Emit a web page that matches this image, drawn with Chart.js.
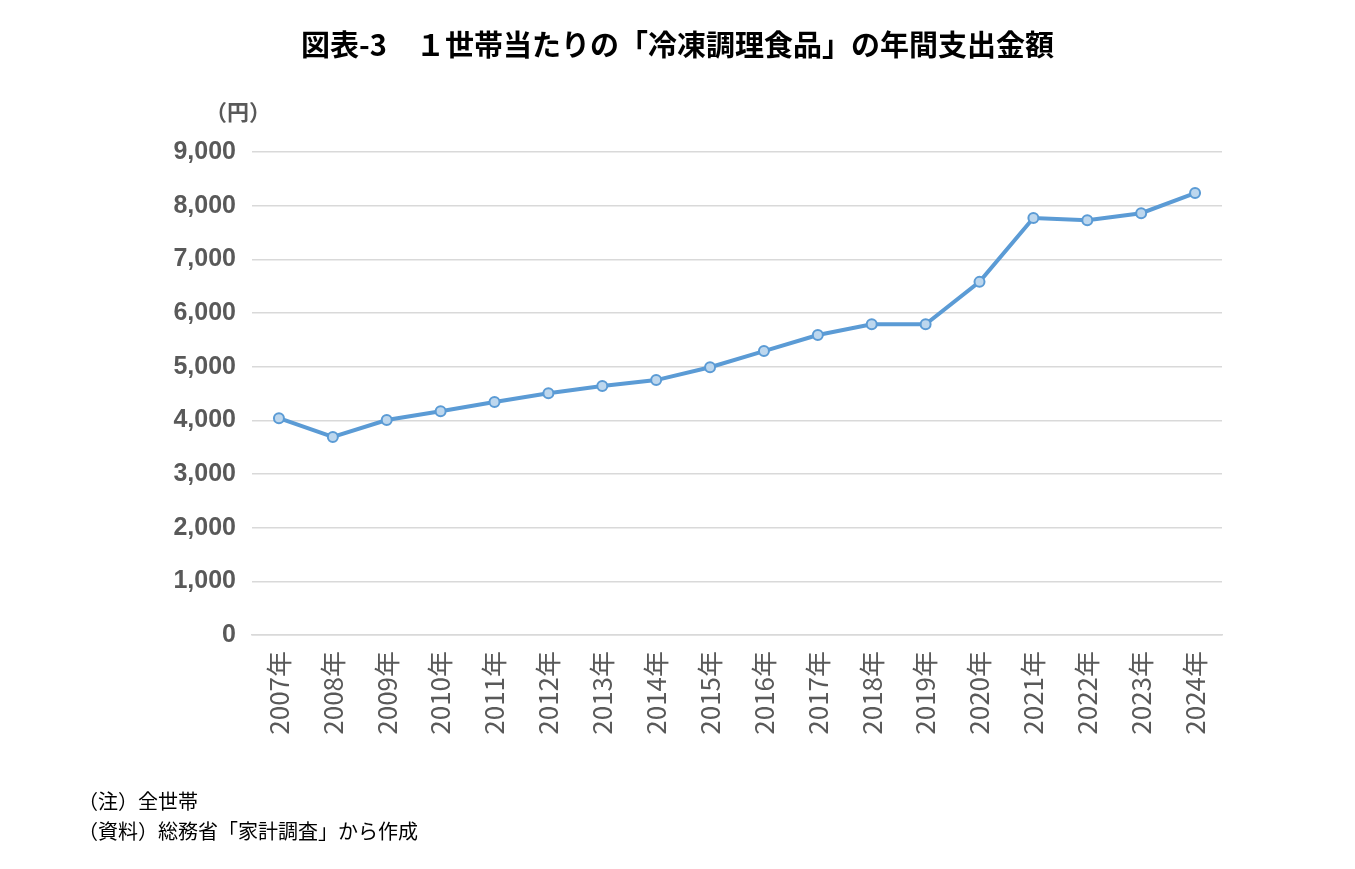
<!DOCTYPE html>
<html>
<head>
<meta charset="utf-8">
<script src="https://cdn.jsdelivr.net/npm/chart.js@4/dist/chart.umd.min.js"></script>
<style>
  body { margin: 0; background: #fff; font-family: "Noto Sans CJK JP", sans-serif; }
  #wrap { position: relative; width: 1355px; height: 869px; }
  canvas { position: absolute; left: 0; top: 0; }
  .txt { position: absolute; color: #000; white-space: nowrap; }
</style>
</head>
<body>
<div id="wrap">
  <canvas id="chart" width="1355" height="869"></canvas>
  <div class="txt" style="left:0;width:1355px;text-align:center;top:22px;font-size:29px;font-weight:bold;">図表-3　１世帯当たりの「冷凍調理食品」の年間支出金額</div>
  <div class="txt" style="left:205px;top:94px;font-size:22px;color:#595959;font-weight:bold;">（円）</div>
  <div class="txt" style="left:78px;top:786px;font-size:20px;">（注）全世帯</div>
  <div class="txt" style="left:78px;top:816px;font-size:20px;">（資料）総務省「家計調査」から作成</div>
</div>
<script>
// 年ごとの支出額（円）
const years = ['2007年','2008年','2009年','2010年','2011年','2012年','2013年','2014年','2015年',
    '2016年','2017年','2018年','2019年','2020年','2021年','2022年','2023年','2024年'];
const spending = [4040, 3690, 4005, 4170, 4340, 4505, 4640, 4750, 4990,
    5290, 5590, 5790, 5790, 6580, 7770, 7730, 7860, 8235];

const tickColor = '#595959';

new Chart(document.getElementById('chart'), {
    type: 'line',
    data: {
        labels: years,
        datasets: [{
            data: spending,
            borderColor: '#5b9bd5',
            borderWidth: 4,
            pointRadius: 5,
            pointBackgroundColor: '#bdd7ee',
            pointBorderColor: '#5b9bd5',
            pointBorderWidth: 2,
            tension: 0
        }]
    },
    options: {
        responsive: false,
        animation: false,
        layout: { padding: { left: 140, right: 133, top: 152, bottom: 100 } },
        plugins: { legend: { display: false }, tooltip: { enabled: false } },
        scales: {
            y: {
                min: 0,
                max: 9000,
                ticks: {
                    stepSize: 1000,
                    padding: 16,
                    color: tickColor,
                    font: { family: 'Arial, "Liberation Sans"', size: 25, weight: 'bold' },
                    callback: v => v.toLocaleString('en-US')
                },
                grid: { color: '#d9d9d9', lineWidth: 1.5, drawTicks: false },
                border: { display: false },
                afterFit: s => { s.width = 112; }
            },
            x: {
                offset: true,
                ticks: {
                    color: tickColor,
                    maxRotation: 90,
                    minRotation: 90,
                    padding: 8,
                    font: { family: '"Noto Sans CJK JP"', size: 26 }
                },
                grid: { display: false },
                border: { color: '#d9d9d9', width: 1.5 },
                afterFit: s => { s.height = 134; }
            }
        }
    }
});
</script>
</body>
</html>
